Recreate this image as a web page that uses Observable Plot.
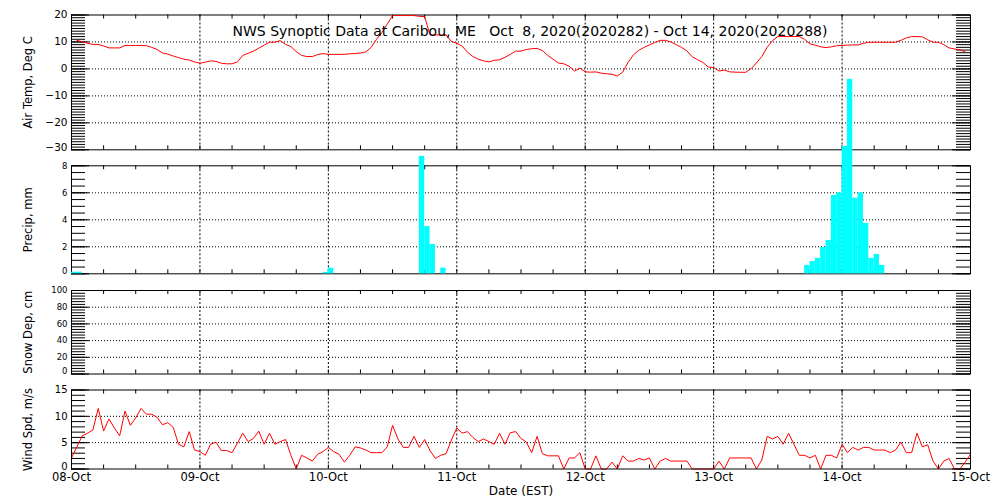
<!DOCTYPE html>
<html>
<head>
<meta charset="utf-8">
<script src="https://cdn.jsdelivr.net/npm/d3@7"></script>
<script src="https://cdn.jsdelivr.net/npm/@observablehq/plot@0.6"></script>
<style>
  body { margin: 0; background: #fff; }
  #chart { position: relative; width: 1000px; height: 500px; overflow: hidden; background: #fff; }
  #chart svg { position: absolute; left: 0; top: 0; }
</style>
</head>
<body>
<div id="chart"></div>
<script>
// ---------- data ----------
const title = "NWS Synoptic Data at Caribou, ME   Oct  8, 2020(2020282) - Oct 14, 2020(2020288)";
const dayLabels = ["08-Oct", "09-Oct", "10-Oct", "11-Oct", "12-Oct", "13-Oct", "14-Oct", "15-Oct"];
const dayHours = [0, 24, 48, 72, 96, 120, 144, 168]; // hours since 08-Oct 00:00 EST

// Air temperature (deg C), hourly, starting at hour 1
const tempStartHour = 1;
const tempValues = [
  10.6, 10.1, 9.5, 9.1, 9.1, 8.5, 7.8, 7.8, 7.8, 8.7,
  8.7, 8.7, 8.7, 8.6, 8.0, 7.2, 5.9, 5.5, 4.8, 4.2,
  3.6, 3.3, 2.6, 2.1, 2.5, 3.0, 2.8, 2.1, 1.9, 1.9,
  2.6, 5.0, 5.8, 6.6, 7.7, 8.8, 9.9, 9.9, 10.5, 9.1,
  8.3, 6.4, 5.0, 4.6, 4.6, 5.3, 5.7, 5.4, 5.4, 5.4,
  5.4, 5.6, 5.7, 5.9, 6.3, 8.0, 11.0, 13.5, 16.6, 19.8,
  19.8, 19.8, 19.8, 19.8, 19.5, 19.4, 12.6, 12.6, 12.6, 12.6,
  10.2, 9.5, 8.5, 6.2, 4.6, 3.6, 3.0, 2.6, 3.2, 3.4,
  4.3, 5.4, 6.6, 6.6, 7.2, 7.5, 7.6, 6.8, 5.0, 3.6,
  2.2, 1.9, 1.0, -0.8, 0.3, -1.1, -1.2, -1.1, -1.6, -1.8,
  -2.0, -2.6, -1.2, 2.4, 5.2, 6.9, 8.0, 8.9, 9.8, 10.6,
  10.6, 10.0, 9.0, 8.0, 6.7, 4.5, 3.4, 2.4, 0.7, 0.5,
  -0.8, -0.4, -1.1, -1.2, -1.25, -1.25, 0.1, 2.2, 4.6, 8.0,
  10.5, 12.0, 12.0, 12.0, 12.0, 12.0, 11.0, 9.3, 8.8, 8.2,
  7.9, 8.2, 8.6, 8.7, 8.8, 8.9, 8.9, 9.5, 9.9, 9.9,
  9.9, 9.9, 9.9, 9.9, 10.6, 11.5, 12.0, 12.0, 11.9, 10.8,
  9.9, 9.9, 9.0, 7.8, 7.4, 7.1, 6.3
];

// Hourly precipitation (mm): hour of bar start and amount
const precipHours = [0, 1, 47, 48, 65, 66, 67, 69,
  137, 138, 139, 140, 141, 142, 143, 144, 145, 146, 147, 148, 149, 150, 151];
const precipValues = [0.12, 0.12, 0.1, 0.42, 8.7, 3.5, 2.17, 0.42,
  0.62, 0.91, 1.14, 1.95, 2.47, 5.8, 6.0, 9.43, 14.4, 5.6, 6.0, 3.73, 1.14, 1.43, 0.62];

// Snow depth (cm): no observations in this period
const snowHours = [];
const snowValues = [];

// Wind speed (m/s), hourly, starting at hour 0
const windStartHour = 0;
const windValues = [
  2.1, 4.2, 6.3, 6.8, 7.4, 11.5, 7.2, 9.5, 7.8, 6.3,
  11.0, 8.3, 9.7, 11.5, 10.4, 10.4, 9.8, 8.4, 8.8, 7.9,
  4.7, 4.2, 7.1, 3.6, 3.3, 2.6, 4.7, 5.1, 3.5, 3.5,
  3.1, 4.9, 6.8, 5.2, 5.8, 7.2, 4.7, 6.8, 4.7, 5.2,
  5.6, 2.6, 0, 2.6, 2.1, 1.5, 2.8, 3.3, 4.1, 3.3,
  2.8, 1.3, 2.6, 4.2, 4.0, 3.6, 3.1, 3.1, 3.1, 4.2,
  8.3, 5.7, 4.1, 4.1, 6.2, 4.1, 5.6, 3.5, 2.0, 2.6,
  2.9, 5.5, 7.8, 6.8, 7.1, 6.0, 5.2, 5.7, 5.2, 4.7,
  6.8, 4.7, 6.9, 7.1, 5.8, 5.1, 3.1, 6.2, 2.9, 2.5,
  2.5, 2.5, 0, 2.1, 2.1, 3.1, 0, 0, 2.5, 0,
  0, 1.3, 0, 2.5, 1.5, 1.5, 2.0, 1.7, 2.1, 0,
  1.5, 2.0, 1.5, 1.5, 1.5, 1.5, 0, 0, 0, 0,
  0, 1.5, 0, 2.1, 2.1, 2.1, 2.1, 2.1, 0, 1.7,
  6.2, 5.7, 6.2, 4.7, 6.8, 4.7, 2.6, 2.6, 2.1, 2.6,
  0, 2.6, 2.6, 2.1, 4.7, 3.1, 4.1, 3.6, 4.1, 4.1,
  3.6, 3.6, 3.6, 3.1, 3.6, 5.1, 3.1, 3.1, 6.8, 4.2,
  4.6, 1.5, 0, 1.5, 2.0, 0, 0, 1.3, 2.8
];

// Axis ticks
const tempTicks = [-30, -20, -10, 0, 10, 20];
const precipTicks = [0, 2, 4, 6, 8];
const snowTicks = [0, 20, 40, 60, 80, 100];
const windTicks = [0, 5, 10, 15];
const tempMinorStep = 1, precipMinorStep = 0.5, snowMinorStep = 20 / 6, windMinorStep = 1;
const xMinorStep = 6; // hours

// ---------- tables ----------
const tempData = tempValues.map((v, i) => ({h: tempStartHour + i, v}));
const windData = windValues.map((v, i) => ({h: windStartHour + i, v}));
const precipData = precipHours.map((h, i) => ({h, v: precipValues[i]}));

// ---------- layout ----------
const WIDTH = 1000, HEIGHT = 500, ML = 71, MR = 30;
const INNER = WIDTH - ML - MR;
const FONT = "DejaVu Sans";

function range(a, b, s) { const out = []; for (let k = 0; a + k * s <= b + 1e-9; k++) out.push(+(a + k * s).toFixed(6)); return out; }

function panel({top, bottom, domain, ticks, minorStep, tickFont, label, under = [], over = [], xAxis = false}) {
  const ph = bottom - top;
  const minor = range(domain[0], domain[1], minorStep);
  const grid = ticks.filter(t => t > domain[0] && t < domain[1]);
  const innerDays = dayHours.filter(h => h > 0 && h < 168);
  const xMinor = range(0, 168, xMinorStep).filter(h => h > 0 && h < 168);
  const marks = [
    Plot.ruleY(grid, {stroke: "black", strokeDasharray: "1,2"}),
    Plot.ruleX(innerDays, {stroke: "black", strokeDasharray: "2,2"}),
    Plot.tickY(minor, {y: d => d, stroke: "black", insetRight: INNER - 14}),
    Plot.tickY(minor, {y: d => d, stroke: "black", insetLeft: INNER - 14}),
    Plot.tickY(ticks, {y: d => d, stroke: "black", insetRight: INNER - 18}),
    Plot.tickY(ticks, {y: d => d, stroke: "black", insetLeft: INNER - 18}),
    Plot.tickX(xMinor, {x: d => d, stroke: "black", insetBottom: ph - 4}),
    Plot.tickX(xMinor, {x: d => d, stroke: "black", insetTop: ph - 4}),
    ...under,
    Plot.frame({stroke: "black"}),
    ...over,
    Plot.axisY(ticks.filter(t => t !== domain[0]), {tickSize: 0, tickPadding: 4, fontSize: tickFont, fill: "black", label: null}),
    Plot.axisY([domain[0]], {tickSize: 0, tickPadding: 4, dy: -2.5, fontSize: tickFont, fill: "black", label: null}),
    Plot.text([label], {frameAnchor: "left", dx: -43, rotate: -90, textAnchor: "middle", lineAnchor: "middle", fontSize: 11.5, fill: "black"})
  ];
  if (xAxis) {
    marks.push(
      Plot.axisX(dayHours, {tickSize: 0, tickPadding: 4, fontSize: 11.5, fill: "black", label: null,
        tickFormat: d => dayLabels[dayHours.indexOf(d)]}),
      Plot.text(["Date (EST)"], {frameAnchor: "bottom", dy: 22, lineAnchor: "middle", fontSize: 12, fill: "black"})
    );
  }
  return Plot.plot({
    width: WIDTH, height: HEIGHT,
    marginLeft: ML, marginRight: MR, marginTop: top, marginBottom: HEIGHT - bottom,
    x: {domain: [0, 168], axis: null, label: null},
    y: {domain, axis: null, label: null},
    style: {fontFamily: FONT, background: "none", overflow: "visible", color: "black"},
    marks
  });
}

const chart = document.getElementById("chart");

const tempPlot = panel({
  top: 14.5, bottom: 149.3, domain: [-30, 20], ticks: tempTicks, minorStep: tempMinorStep,
  tickFont: 10.5, label: "Air Temp, Deg C",
  over: [
    Plot.line(tempData, {x: "h", y: "v", stroke: "#ff0000", strokeWidth: 1}),
    Plot.text([title], {frameAnchor: "top-left", dx: 161, dy: 11, lineAnchor: "top", textAnchor: "start", fontSize: 14, fill: "black"})
  ]
});
chart.appendChild(tempPlot);

const precipPlot = panel({
  top: 165.3, bottom: 273.3, domain: [0, 8], ticks: precipTicks, minorStep: precipMinorStep,
  tickFont: 8.5, label: "Precip, mm",
  over: [
    Plot.rectY(precipData, {x1: "h", x2: d => d.h + 1, y: "v", fill: "#00ffff"})
  ]
});
chart.appendChild(precipPlot);

const snowPlot = panel({
  top: 290, bottom: 373.5, domain: [0, 100], ticks: snowTicks, minorStep: snowMinorStep,
  tickFont: 8.5, label: "Snow Dep, cm",
  over: [
    Plot.line(snowHours.map((h, i) => ({h, v: snowValues[i]})), {x: "h", y: "v", stroke: "#ff0000"})
  ]
});
chart.appendChild(snowPlot);

const windPlot = panel({
  top: 389.5, bottom: 468.5, domain: [0, 15], ticks: windTicks, minorStep: windMinorStep,
  tickFont: 10, label: "Wind Spd, m/s", xAxis: true,
  under: [
    Plot.line(windData, {x: "h", y: "v", stroke: "#ff0000", strokeWidth: 1})
  ]
});
chart.appendChild(windPlot);

// fit the title to the width it occupies in the original
d3.select(tempPlot).selectAll("text").filter(function () { return this.textContent === title; })
  .attr("textLength", 595).attr("lengthAdjust", "spacingAndGlyphs");
</script>
</body>
</html>
